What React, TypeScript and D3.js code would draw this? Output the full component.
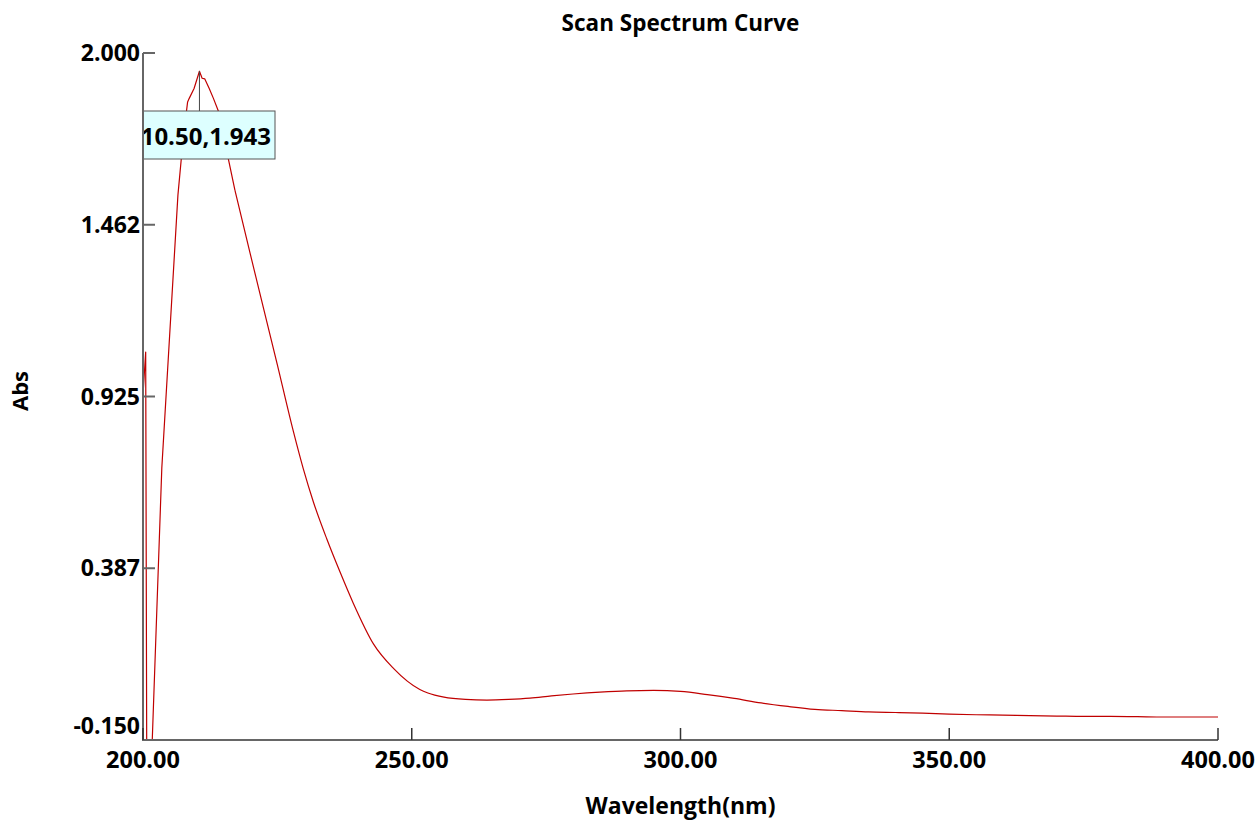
import React from "react";
import * as d3 from "d3";

// Sharp, sparsely-sampled region around the start and the main peak (drawn with straight segments)
const peakWavelengths = [
  200.0, 200.5, 201.0, 201.5, 203.5, 206.5, 207.5, 208.3, 208.6, 209.5, 210.5, 211.0, 211.5,
  212.3, 213.1, 214.0, 217.1,
];
const peakAbsorbance = [
  0.93, 1.064, -2.2, -0.256, 0.701, 1.556, 1.737, 1.847, 1.858, 1.889, 1.943, 1.921, 1.919,
  1.89, 1.858, 1.819, 1.571,
];

// Smooth region from the falling flank to the end of the scan
const tailWavelengths = [
  217.1, 220, 225, 228, 229.8, 231.7, 234.2, 236.7, 239.1, 242.9, 246.6, 251.5, 253, 256, 260,
  264, 268, 272, 276, 280, 285, 290, 295, 300, 305, 310, 315, 320, 325, 330, 335, 340, 345,
  350, 355, 360, 365, 370, 375, 380, 385, 390, 395, 400,
];
const tailAbsorbance = [
  1.571, 1.368, 1.024, 0.814, 0.7, 0.595, 0.479, 0.374, 0.279, 0.15, 0.074, 0.008, -0.003,
  -0.016, -0.023, -0.025, -0.023, -0.019, -0.012, -0.006, 0.0, 0.004, 0.005, 0.002, -0.008,
  -0.02, -0.034, -0.045, -0.054, -0.058, -0.062, -0.064, -0.066, -0.069, -0.071, -0.072,
  -0.074, -0.075, -0.076, -0.076, -0.077, -0.078, -0.078, -0.078,
];

const xTicks = [200, 250, 300, 350, 400];
const xTickLabels = ["200.00", "250.00", "300.00", "350.00", "400.00"];
const yTicks = [-0.15, 0.3875, 0.925, 1.4625, 2.0];
const yTickLabels = ["-0.150", "0.387", "0.925", "1.462", "2.000"];

const peakWavelength = 210.5;
const peakValue = 1.943;
const peakLabel = "210.50,1.943";

const title = "Scan Spectrum Curve";
const xTitle = "Wavelength(nm)";
const yTitle = "Abs";

const W = 1259;
const H = 820;
const L = 143;
const R = 1218;
const T = 53;
const B = 740;
const FONT = "'Open Sans', 'Noto Sans', sans-serif";

export default function App() {
  const x = d3.scaleLinear().domain([200, 400]).range([L, R]);
  const y = d3.scaleLinear().domain([-0.15, 2.0]).range([B, T]);
  const peakPts = peakWavelengths.map((w, i) => [w, peakAbsorbance[i]] as [number, number]);
  const tailPts = tailWavelengths.map((w, i) => [w, tailAbsorbance[i]] as [number, number]);
  const linearLine = d3
    .line<[number, number]>()
    .x((d) => x(d[0]))
    .y((d) => y(d[1]))
    .curve(d3.curveLinear);
  const smoothLine = d3
    .line<[number, number]>()
    .x((d) => x(d[0]))
    .y((d) => y(d[1]))
    .curve(d3.curveMonotoneX);
  const px = x(peakWavelength);
  const py = y(peakValue);
  const boxRight = 275;
  const boxW = 146;
  const boxTop = 111;
  const boxH = 48;

  return (
    <svg
      width={W}
      height={H}
      style={{ position: "absolute", left: 0, top: 0, background: "#fff" }}
      fontFamily={FONT}
    >
      <defs>
        <clipPath id="plot">
          <rect x={L + 1} y={T - 40} width={R - L} height={B - T + 40} />
        </clipPath>
      </defs>
      <text x={(L + R) / 2} y={31} textAnchor="middle" fontSize={22.5} fontWeight="bold">
        {title}
      </text>

      <g clipPath="url(#plot)">
        <path
          d={linearLine(peakPts) || ""}
          fill="none"
          stroke="#c00000"
          strokeWidth={1.2}
          strokeLinejoin="round"
        />
        <path d={smoothLine(tailPts) || ""} fill="none" stroke="#c00000" strokeWidth={1.2} />
        <line x1={px} x2={px} y1={py} y2={boxTop} stroke="#444" strokeWidth={1} />
        <rect
          x={boxRight - boxW}
          y={boxTop}
          width={boxW}
          height={boxH}
          fill="#ddffff"
          stroke="#555"
          strokeWidth={1}
        />
        <text x={boxRight - 4} y={145} textAnchor="end" fontSize={24} fontWeight="bold">
          {peakLabel}
        </text>
      </g>

      {/* axes */}
      <line x1={L} x2={L} y1={T} y2={B + 1} stroke="#666" strokeWidth={2} />
      <line x1={L} x2={R} y1={B} y2={B} stroke="#666" strokeWidth={2} />

      {yTicks.map((v, i) => (
        <g key={"y" + i}>
          <line x1={L} x2={L + 12} y1={y(v)} y2={y(v)} stroke="#666" strokeWidth={2} />
          <text
            x={L - 3}
            y={i === 0 ? y(v) - 12 : y(v) + 2}
            textAnchor="end"
            dominantBaseline="middle"
            fontSize={23}
            fontWeight="bold"
          >
            {yTickLabels[i]}
          </text>
        </g>
      ))}
      {xTicks.map((v, i) => (
        <g key={"x" + i}>
          <line x1={x(v)} x2={x(v)} y1={B} y2={B - 12} stroke="#333" strokeWidth={1.5} />
          <text x={x(v)} y={768} textAnchor="middle" fontSize={23.5} fontWeight="bold">
            {xTickLabels[i]}
          </text>
        </g>
      ))}

      <text x={(L + R) / 2} y={814} textAnchor="middle" fontSize={23} fontWeight="bold">
        {xTitle}
      </text>
      <text
        transform={`translate(28,391) rotate(-90)`}
        textAnchor="middle"
        fontSize={22}
        fontWeight="bold"
      >
        {yTitle}
      </text>
    </svg>
  );
}
